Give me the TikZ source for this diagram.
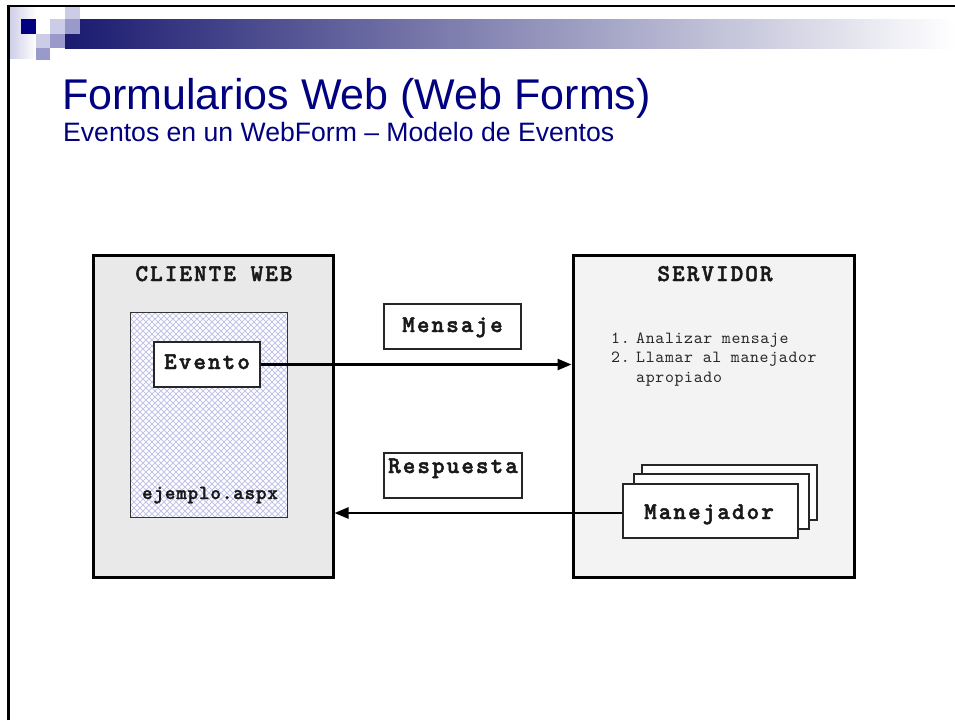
\documentclass[tikz,border=0pt]{standalone}
\usepackage{fontspec}
\setmainfont{Liberation Sans}
\newfontfamily\cbf{lmmonolt10-bold.otf}[LetterSpace=8.5, FakeBold=2]
\newfontfamily\cbfs{lmmonolt10-bold.otf}[LetterSpace=4.5, FakeBold=1.5]
\newfontfamily\creg{lmmono10-regular.otf}[LetterSpace=4]
\usetikzlibrary{arrows.meta}
\definecolor{navy}{RGB}{0,0,128}
\definecolor{barnavy}{RGB}{26,26,112}
\definecolor{lav}{RGB}{204,204,230}
\definecolor{medlav}{RGB}{153,153,204}
\definecolor{clientfill}{RGB}{233,233,233}
\definecolor{serverfill}{RGB}{243,243,243}
\definecolor{hatch}{RGB}{196,196,232}
\definecolor{txtgray}{RGB}{40,40,40}
\tikzset{
  bigbox/.style={draw=black, line width=3pt, inner sep=0pt, minimum height=322pt},
  smallbox/.style={draw=black!85, line width=1.3pt, fill=white, inner sep=0pt},
  boldlbl/.style={inner sep=0pt, anchor=base, font=\cbf\fontsize{24}{28}\selectfont, text=black!90},
  listlbl/.style={inner sep=0pt, anchor=base west, font=\creg\fontsize{17}{20}\selectfont, text=txtgray},
  hatchline/.style={draw=hatch, line width=0.9pt},
  arr/.style={line width=2.5pt, -{Triangle[length=14pt,width=11pt]}}
}
\begin{document}
\begin{tikzpicture}[x=1pt,y=-1pt]
\useasboundingbox (0,0) rectangle (955,720);
\fill[white] (0,0) rectangle (955,720);
% decoration
\shade[left color=lav, right color=white] (9,7) rectangle (36,58);
\shade[left color=barnavy, right color=white] (65,19) rectangle (955,48);
\fill[navy] (21,19) rectangle (36,34);
\fill[lav] (65,7) rectangle (80,19);
\fill[lav] (50,19) rectangle (65,34);
\fill[lav] (36,34) rectangle (50,48);
\fill[medlav] (65,19) rectangle (80,34);
\fill[medlav] (50,34) rectangle (65,48);
\fill[medlav] (36,48) rectangle (50,60);
\draw[line width=2.5pt] (8.5,720) -- (8.5,6.2) -- (955,6.2);
% titles
\node[anchor=base west, inner sep=0pt, text=navy, font=\fontsize{43}{50}\selectfont] (title) at (62,109) {Formularios Web (Web Forms)};
\node[anchor=base west, inner sep=0pt, text=navy, font=\fontsize{26.6}{32}\selectfont] (subtitle) at (63,141) {Eventos en un WebForm – Modelo de Eventos};
% main boxes
\node[bigbox, fill=clientfill, minimum width=240pt] (client) at (213,416) {};
\node[bigbox, fill=serverfill, minimum width=281pt] (server) at (713.5,416) {};
\node[fill=white, inner sep=0pt, minimum width=156pt, minimum height=204pt] (page) at (209,415) {};
\begin{scope}
  \clip (131,313) rectangle (287,517);
  \foreach \s in {-210,-204,...,162} { \draw[hatchline] (131+\s,313) -- ++(204,204); }
  \foreach \s in {0,6,...,366} { \draw[hatchline] (131+\s,313) -- ++(-204,204); }
\end{scope}
\draw[draw=black!80, line width=1.3pt] (page.north west) rectangle (page.south east);
\node[smallbox, minimum width=106pt, minimum height=45pt] (evento) at (207,364.5) {};
\node[smallbox, minimum width=137pt, minimum height=45pt] (mensaje) at (452.5,326.5) {};
\node[smallbox, minimum width=138pt, minimum height=45pt] (respuesta) at (453,475.5) {};
\node[smallbox, minimum width=175pt, minimum height=55pt] (manB) at (729.5,492.5) {};
\node[smallbox, minimum width=175pt, minimum height=55pt] (manM) at (721.5,501.5) {};
\node[smallbox, minimum width=175pt, minimum height=54pt] (manF) at (710.5,511) {};
% labels
\node[boldlbl] (clientT) at (214,281) {CLIENTE WEB};
\node[boldlbl] (serverT) at (715,281) {SERVIDOR};
\node[boldlbl] (eventoT) at (207,369) {Evento};
\node[boldlbl] (mensajeT) at (452.5,332) {Mensaje};
\node[boldlbl] (respT) at (453,473) {Respuesta};
\node[boldlbl] (manT) at (709,519) {Manejador};
\node[boldlbl, font=\cbfs\fontsize{20}{24}\selectfont] (aspxT) at (210,499) {ejemplo.aspx};
\node[listlbl] (n1) at (611,343) {1.};
\node[listlbl] (l1) at (636,343) {Analizar mensaje};
\node[listlbl] (n2) at (611,362.5) {2.};
\node[listlbl] (l2) at (636,362.5) {Llamar al manejador};
\node[listlbl] (l3) at (636,382) {apropiado};
% connectors
\draw[arr] (evento.east) -- (evento.east -| server.west);
\draw[arr] ([yshift=-2pt]manF.west) -- ([yshift=-2pt]manF.west -| client.east);
\end{tikzpicture}
\end{document}
